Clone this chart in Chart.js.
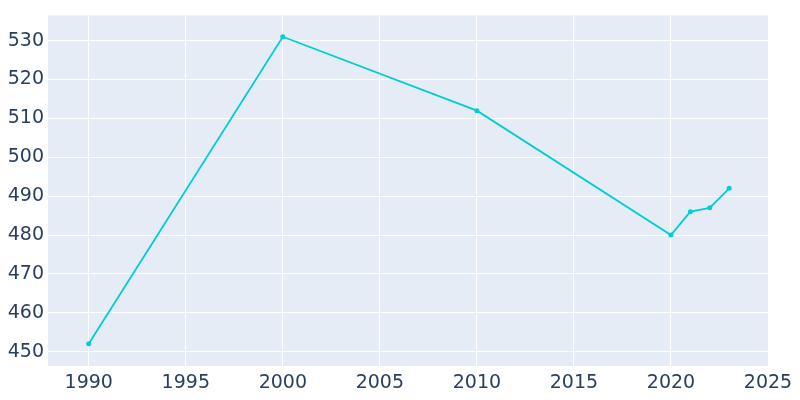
<!DOCTYPE html>
<html><head><script src="https://cdn.jsdelivr.net/npm/chart.js@4"></script>
<style>body{margin:0;background:#fff}#w{width:800px;height:400px}</style></head>
<body><div id="w"><canvas id="c"></canvas></div>
<script>
const years=[1990,2000,2010,2020,2021,2022,2023];
const population=[452,531,512,480,486,487,492];
const xTicks=[1990,1995,2000,2005,2010,2015,2020,2025];
const yTicks=[450,460,470,480,490,500,510,520,530];
const bg={id:'bg',beforeDraw(ch){const a=ch.chartArea,x=ch.ctx;x.save();x.fillStyle='#E5ECF6';x.fillRect(a.left,a.top,a.right-a.left,a.bottom-a.top);x.restore();}};
new Chart(document.getElementById('c'),{type:'line',
data:{datasets:[{data:years.map((y,i)=>({x:y,y:population[i]})),borderColor:'#00CED1',backgroundColor:'#00CED1',borderWidth:1.8,pointRadius:2.5,pointBorderWidth:0,tension:0}]},
options:{responsive:true,maintainAspectRatio:false,animation:false,
layout:{padding:{top:-7,right:32,left:0,bottom:0}},
plugins:{legend:{display:false},tooltip:{enabled:false}},
scales:{
x:{type:'linear',min:1987.9,max:2025,afterBuildTicks(s){s.ticks=xTicks.map(v=>({value:v}));},afterFit(s){s.height=34;},
grid:{color:'#fff',drawTicks:false,lineWidth:1},border:{display:false},
ticks:{color:'#2a3f5f',font:{size:19,family:'DejaVu Sans'},padding:6,maxRotation:0,callback:v=>v}},
y:{min:446.3,max:536.5,afterBuildTicks(s){s.ticks=yTicks.map(v=>({value:v}));},afterFit(s){s.width=48;},
grid:{color:'#fff',drawTicks:false,lineWidth:1},border:{display:false},
ticks:{color:'#2a3f5f',font:{size:19,family:'DejaVu Sans'},padding:4}}}},
plugins:[bg]});
</script></body></html>
